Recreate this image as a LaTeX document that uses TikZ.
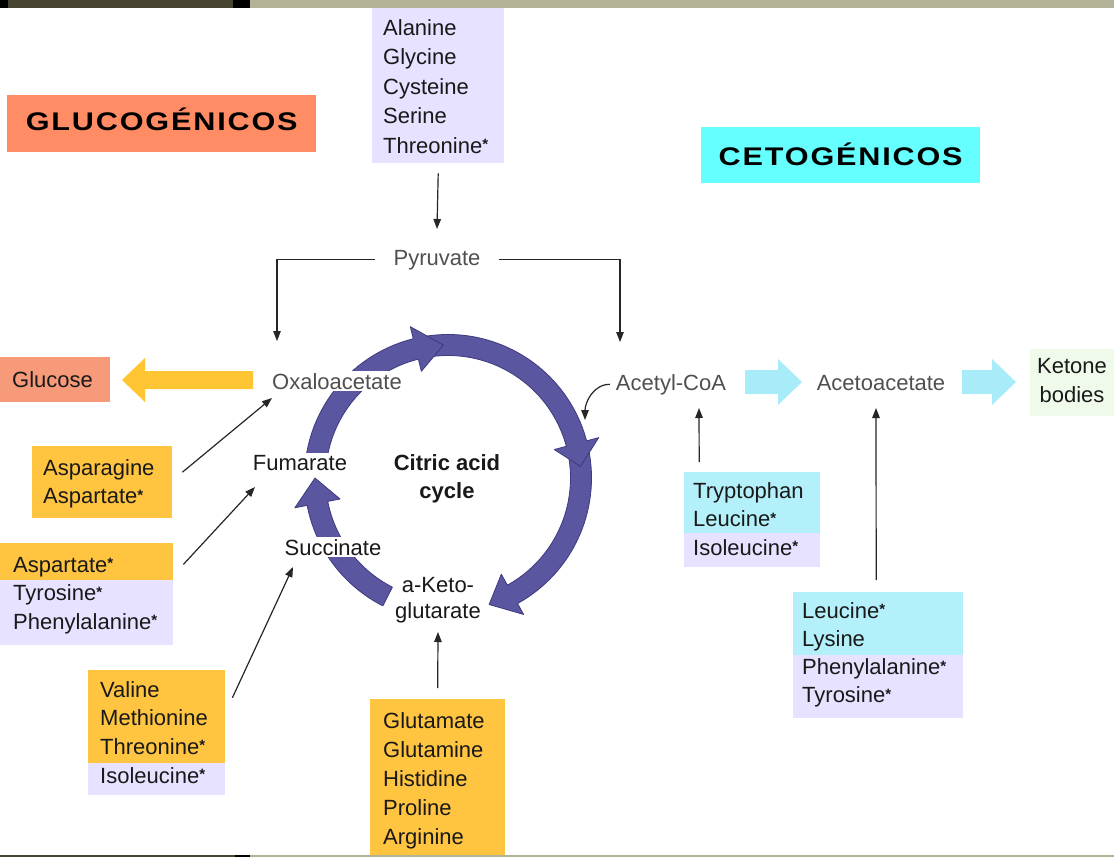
\documentclass[tikz,border=0pt]{standalone}
\usepackage{fontspec}
\setmainfont{Liberation Sans}
\newfontfamily\ttlfont[LetterSpace=6]{Liberation Sans}
\usetikzlibrary{arrows.meta}
\definecolor{orng}{HTML}{FFC440}
\definecolor{lav}{HTML}{E6E2FF}
\definecolor{cyn}{HTML}{B4F0FA}
\definecolor{salm}{HTML}{FF8C64}
\definecolor{cytitle}{HTML}{66FFFF}
\definecolor{glc}{HTML}{F79A7A}
\definecolor{ket}{HTML}{F0FAEA}
\definecolor{bandc}{HTML}{5A56A0}
\definecolor{bandd}{HTML}{3E3A80}
\definecolor{yarr}{HTML}{FFC533}
\definecolor{carr}{HTML}{A8ECFA}
\definecolor{olive}{HTML}{484432}
\definecolor{olivel}{HTML}{B4B296}
\definecolor{mgray}{HTML}{505050}
\newcommand\st{\raisebox{3.5pt}{\fontsize{15}{15}\selectfont\bfseries*}}
\newcommand\mybox[6]{\node[fill=#6, anchor=north west, inner sep=0pt, minimum width={#4-#2}, minimum height={#5-#3}] (#1) at (#2,#3) {};}
\newcommand\mycycarrow[3]{%
  \filldraw[band] ([shift={(#1:143.5)}]cyc) arc[start angle=#1, end angle=#2, radius=143.5]
   -- ([shift={(#2:156)}]cyc) -- ([shift={(#3:133)}]cyc) -- ([shift={(#2:110)}]cyc)
   -- ([shift={(#2:122.5)}]cyc) arc[start angle=#2, end angle=#1, radius=122.5] -- cycle;}
\begin{document}
\begin{tikzpicture}[x=1pt,y=-1pt,
  am/.style={font=\fontsize{22}{28}\selectfont, inner sep=0pt, anchor=base west, text=black!90},
  met/.style={font=\fontsize{22}{28}\selectfont, inner sep=2pt, anchor=base, text=mgray, fill=white},
  metb/.style={met, text=black!90},
  cit/.style={font=\fontsize{22}{28}\selectfont\bfseries, inner sep=0pt, anchor=base, text=black!90},
  ttl/.style={font=\fontsize{25.5}{30}\selectfont\ttlfont\bfseries, inner xsep=0pt, inner ysep=0pt, anchor=base west},
  arr/.style={draw=black!85, line width=1.2pt, -{Triangle[length=10pt,width=7.5pt]}},
  band/.style={fill=bandc, draw=bandd, line width=0.8pt, line join=round}]
\useasboundingbox (0,0) rectangle (1114,857);
\fill[white] (0,0) rectangle (1114,857);

% titles
\node[ttl, fill=salm, text height=35pt, text depth=22pt, minimum width=309pt] (tglu) at (7,130) {\scalebox{1.2}[1]{GLUCOGÉNICOS}};
\node[ttl, fill=cytitle, text height=38pt, text depth=18pt, minimum width=279pt] (tceto) at (701,165) {\scalebox{1.2}[1]{CETOGÉNICOS}};

% boxes
\mybox{ala}{372}{0}{504}{163}{lav}
\mybox{asp}{32}{446}{172}{518}{orng}
\mybox{aspb}{0}{543}{173}{580}{orng}
\mybox{tyr}{0}{580}{173}{645}{lav}
\mybox{val}{88}{670}{225}{763}{orng}
\mybox{ile}{88}{763}{225}{795}{lav}
\mybox{glu}{370}{699}{505}{857}{orng}
\mybox{trp}{684}{472}{820}{533}{cyn}
\mybox{trpb}{684}{533}{820}{567}{lav}
\mybox{leu}{793}{592}{963}{655}{cyn}
\mybox{leub}{793}{655}{963}{718}{lav}
\mybox{glcbox}{0}{357}{110}{402}{glc}
\mybox{ketbox}{1030}{349}{1114}{416}{ket}

% box texts
\foreach \t [count=\i from 0] in {Alanine,Glycine,Cysteine,Serine,Threonine\st}
  \node[am] (tala\i) at (383,{35+29.5*\i}) {\t};
\foreach \t [count=\i from 0] in {Asparagine,Aspartate\st}
  \node[am] (tasp\i) at (43,{475+28.5*\i}) {\t};
\foreach \t [count=\i from 0] in {Aspartate\st,Tyrosine\st,Phenylalanine\st}
  \node[am] (ttyr\i) at (13,{572+28.5*\i}) {\t};
\foreach \t [count=\i from 0] in {Valine,Methionine,Threonine\st,Isoleucine\st}
  \node[am] (tval\i) at (100,{697+28.7*\i}) {\t};
\foreach \t [count=\i from 0] in {Glutamate,Glutamine,Histidine,Proline,Arginine}
  \node[am] (tglt\i) at (383,{728+29*\i}) {\t};
\foreach \t [count=\i from 0] in {Tryptophan,Leucine\st,Isoleucine\st}
  \node[am] (ttrp\i) at (693,{498+28.5*\i}) {\t};
\foreach \t [count=\i from 0] in {Leucine\st,Lysine,Phenylalanine\st,Tyrosine\st}
  \node[am] (tleu\i) at (802,{618+28.3*\i}) {\t};
\node[am] (tglc) at (12,387) {Glucose};
\node[metb, fill=none] (ket1) at (1072,373) {Ketone};
\node[metb, fill=none] (ket2) at (1072,402) {bodies};

% cycle
\coordinate (cyc) at (448,478);
\mycycarrow{348}{421}{432}
\mycycarrow{259}{345}{355}
\mycycarrow{190}{256}{268}
\mycycarrow{117}{169}{180}

% metabolites
\node[met, inner xsep=18pt, fill=none] (pyr) at (437,265) {Pyruvate};
\node[met] (oxa) at (337,389) {Oxaloacetate};
\node[met] (acoa) at (671,390) {Acetyl-CoA};
\node[met] (acac) at (881,390) {Acetoacetate};
\node[metb] (fum) at (300,470) {Fumarate};
\node[metb] (suc) at (333,555) {Succinate};
\node[metb] (akg1) at (438,592) {a-Keto-};
\node[metb] (akg2) at (438,618) {glutarate};
\node[cit] (cit1) at (447,470) {Citric acid};
\node[cit] (cit2) at (447,498) {cycle};

% thick arrows
\fill[yarr] (253,371) -- (145,371) -- (145,358) -- (122,380) -- (145,402) -- (145,389) -- (253,389) -- cycle;
\fill[carr] (745,370) -- (778,370) -- (778,359) -- (802,382) -- (778,405) -- (778,394) -- (745,394) -- cycle;
\fill[carr] (962,370) -- (992,370) -- (992,359) -- (1016,382) -- (992,405) -- (992,394) -- (962,394) -- cycle;

% thin arrows
\coordinate (pyrin) at (437,229);
\coordinate (oxain) at (277,341);
\coordinate (acin) at (620,342);
\coordinate (cycin) at (585,420);
\coordinate (oxasw) at (272,398);
\coordinate (fumsw) at (255,487);
\coordinate (sucsw) at (293,567);
\coordinate (akgs) at (438,632);
\coordinate (acoas) at (699,408);
\coordinate (acacs) at (876,408);
\draw[arr] ([yshift=-10pt]ala.south) -- (pyrin);
\draw[arr] (pyr.west) -| (oxain);
\draw[arr] (pyr.east) -| (acin);
\draw[arr] ([xshift=-4pt]acoa.west) to[out=180,in=90] (cycin);
\draw[arr] ([shift={(10,-10)}]asp.east) -- (oxasw);
\draw[arr] ([shift={(10,-16)}]aspb.south east) -- (fumsw);
\draw[arr] ([shift={(7,-19)}]val.east) -- (sucsw);
\draw[arr] ([yshift=11pt]glu.north) -- (akgs);
\draw[arr] ([shift={(-53,-10)}]trp.north) -- (acoas);
\draw[arr] ([shift={(-2,-12)}]leu.north) -- (acacs);

% frame strips
\fill[black] (0,0) rectangle (8,7.5);
\fill[olive] (8,0) rectangle (233,7.5);
\fill[black] (233,0) rectangle (250,7.5);
\fill[olivel] (250,0) rectangle (1114,7.5);
\fill[olive] (0,855) rectangle (235,857);
\fill[black] (235,855) rectangle (250,857);
\fill[olivel] (250,855) rectangle (1114,857);
\end{tikzpicture}
\end{document}
